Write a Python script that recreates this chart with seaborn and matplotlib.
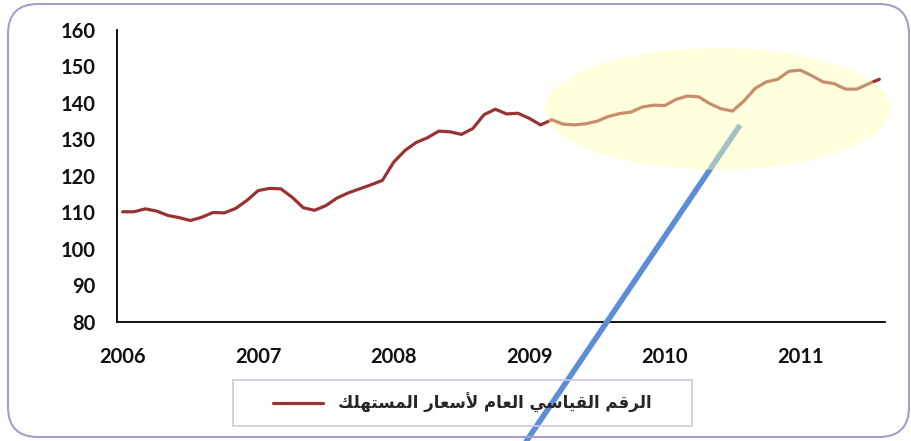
import numpy as np
import pandas as pd
import seaborn as sns
import matplotlib.pyplot as plt
from matplotlib.patches import Ellipse, FancyBboxPatch, Rectangle
from matplotlib.lines import Line2D
from matplotlib.ticker import FixedLocator, FixedFormatter, NullFormatter

# monthly CPI, Jan 2006 - Aug 2011
months = pd.period_range("2006-01", "2011-08", freq="M").astype(str).tolist()
cpi = [110.2, 110.2, 111.0, 110.4, 109.2, 108.6, 107.8, 108.7, 110.0, 109.9, 111.1, 113.3,
       116.0, 116.6, 116.5, 114.2, 111.3, 110.6, 111.9, 114.0, 115.4, 116.5, 117.6, 118.8,
       123.8, 127.0, 129.2, 130.5, 132.3, 132.1, 131.4, 133.0, 136.8, 138.3, 137.0, 137.2,
       135.8, 134.0, 135.4, 134.2, 134.0, 134.3, 135.0, 136.3, 137.1, 137.5, 138.9, 139.4,
       139.3, 141.0, 141.9, 141.7, 139.8, 138.4, 137.8, 140.5, 144.0, 145.8, 146.5, 148.7,
       149.0, 147.5, 145.8, 145.3, 143.8, 143.8, 145.2, 146.5]
year_labels = ["2006", "2007", "2008", "2009", "2010", "2011"]
y_ticks = [80, 90, 100, 110, 120, 130, 140, 150, 160]

# legend text (الرقم القياسي العام لأسعار المستهلك) in presentation forms, visual order
words = ["\uFE8D\uFEDF\uFEAE\uFED7\uFEE2",
         "\uFE8D\uFEDF\uFED8\uFEF4\uFE8E\uFEB3\uFEF2",
         "\uFE8D\uFEDF\uFECC\uFE8E\uFEE1",
         "\uFEF7\uFEB3\uFECC\uFE8E\uFEAD",
         "\uFE8D\uFEDF\uFEE4\uFEB4\uFE98\uFEEC\uFEE0\uFEDA"]
series_name = " ".join(words)[::-1]

df = pd.DataFrame({"month": months, "cpi": cpi})
df["idx"] = range(len(df))

sns.set_style("white")
plt.rcParams["font.family"] = ["Lato", "DejaVu Sans"]

fig = plt.figure(figsize=(9.11, 4.41), dpi=100)
ax = fig.add_axes([117 / 911, 1 - 322 / 441, 768 / 911, 292 / 441])

sns.lineplot(data=df, x="idx", y="cpi", ax=ax, color="#993333", linewidth=2.3,
             label=series_name, zorder=3)

ax.set_xlim(-0.5, len(months) - 0.5)
ax.set_ylim(80, 160)
ax.set_yticks(y_ticks)
ax.set_xlabel("")
ax.set_ylabel("")

# ticks between categories every 6 months, year labels on January
ax.xaxis.set_major_locator(FixedLocator(np.arange(-0.5, len(months) - 1, 6)))
ax.xaxis.set_major_formatter(NullFormatter())
jan_idx = [i for i, m in enumerate(months) if m.endswith("-01")]
ax.xaxis.set_minor_locator(FixedLocator(jan_idx))
ax.xaxis.set_minor_formatter(FixedFormatter(year_labels))

for s in ["top", "right"]:
    ax.spines[s].set_visible(False)
for s in ["left", "bottom"]:
    ax.spines[s].set_color("black")
    ax.spines[s].set_linewidth(1.3)

ax.tick_params(axis="both", which="major", direction="out", length=6.5, width=1.3,
               color="black", labelsize=14.5, pad=9)
ax.tick_params(axis="x", which="minor", length=0, labelsize=14.5, pad=18)
for lab in ax.get_yticklabels() + ax.get_xticklabels(minor=True):
    lab.set_fontweight("bold")
    lab.set_color("#111111")

# highlight ellipse and the blue pointer line
ax.add_patch(Ellipse((52.7, 138.4), 30.6, 33.4, facecolor="#FFFFB4", edgecolor="none",
                     alpha=0.45, zorder=5, clip_on=False))
ax.add_line(Line2D([740 / 911, 519 / 911], [1 - 125 / 441, 1 - 452 / 441],
                   transform=fig.transFigure, color="#5B8ED6", linewidth=4,
                   solid_capstyle="butt", clip_on=False, zorder=4))

# legend with its own frame
leg = ax.legend(loc="center", bbox_to_anchor=(462 / 911, 1 - 403 / 441),
                bbox_transform=fig.transFigure, frameon=False, handlelength=3,
                handletextpad=0.9, prop={"family": ["DejaVu Sans"], "weight": "bold", "size": 12})
fig.patches.append(Rectangle((233 / 911, 1 - 426 / 441), 459 / 911, 46 / 441,
                             transform=fig.transFigure, fill=False,
                             edgecolor="#CFC6E0", linewidth=1.2))

# rounded outer border
fig.patches.append(FancyBboxPatch((0.08, 0.04), 9.01, 4.33,
                                  boxstyle="round,pad=0,rounding_size=0.3",
                                  transform=fig.dpi_scale_trans, fill=False,
                                  edgecolor="#A99CCB", linewidth=1.5))

fig.savefig("out.png", dpi=100)
